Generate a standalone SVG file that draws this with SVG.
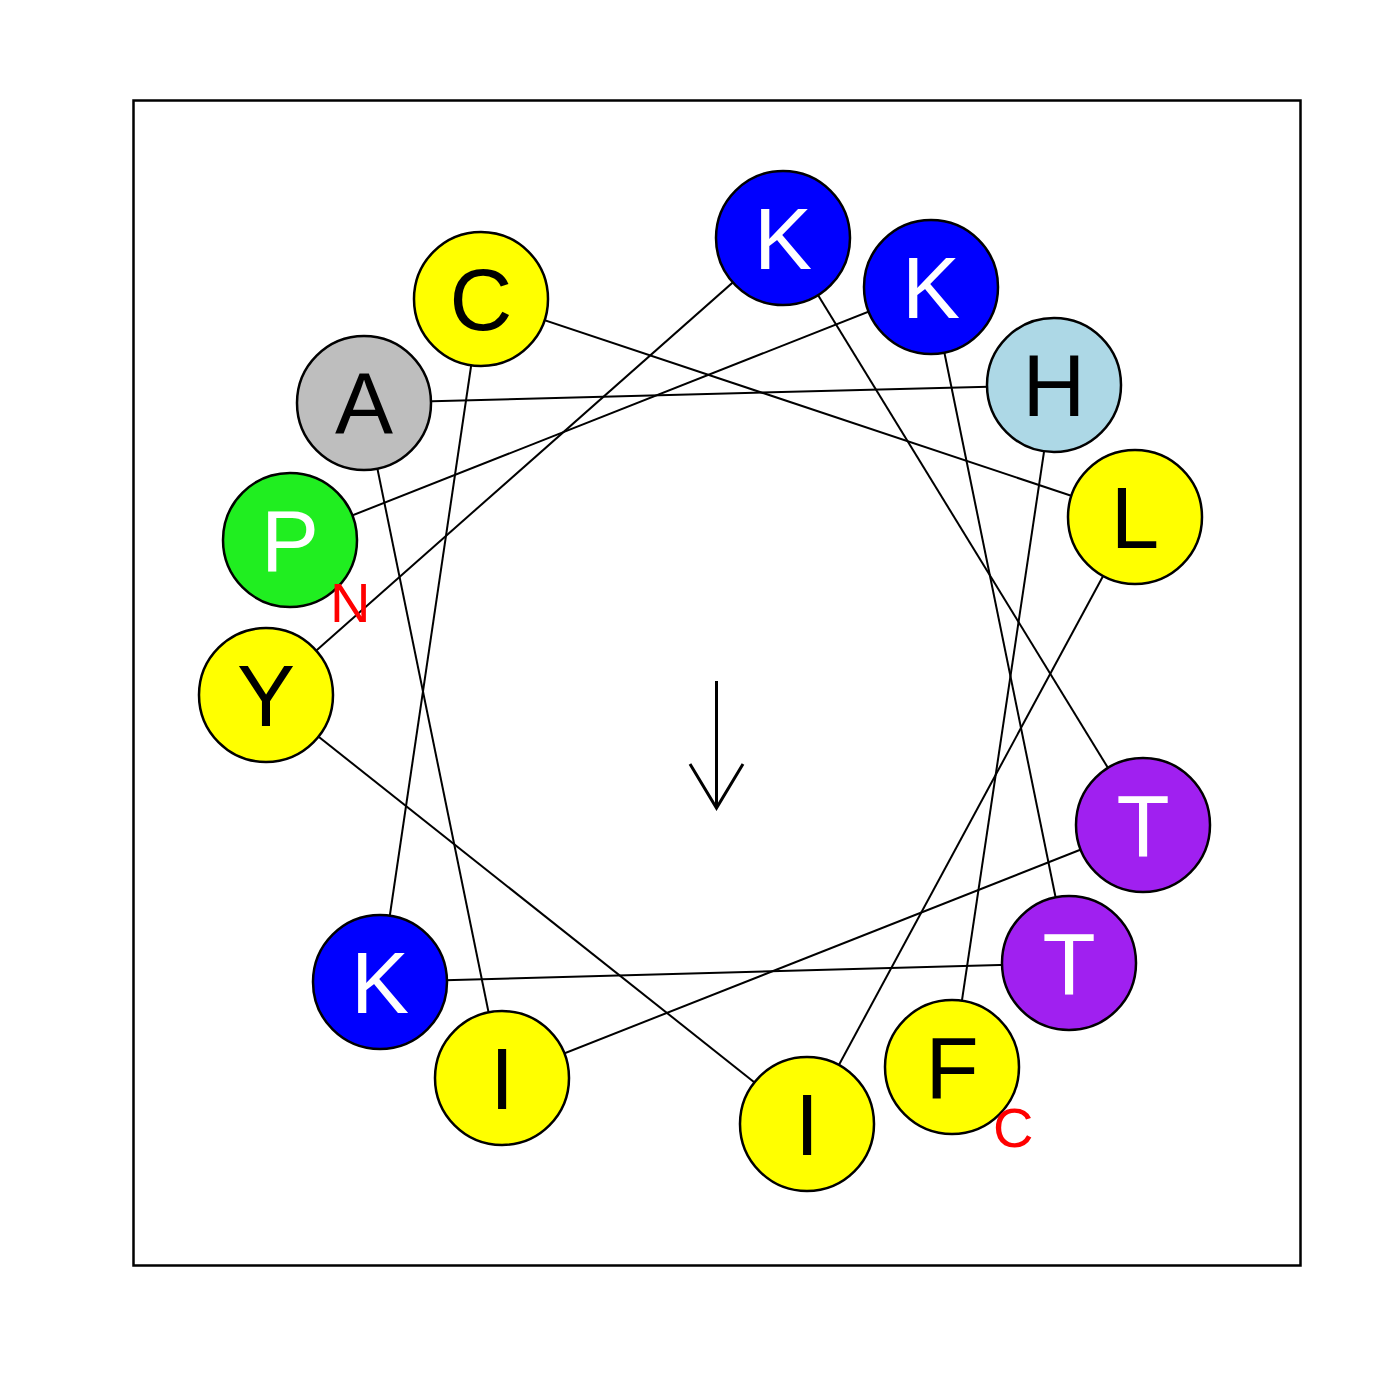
<svg xmlns="http://www.w3.org/2000/svg" width="1400" height="1400" viewBox="0 0 1400 1400">
<style>
.res circle{stroke:#000;stroke-width:2.5}
.res text{font-family:"Liberation Sans",Arial,sans-serif;font-size:87px;text-anchor:middle}
.lt{fill:#fff}
.dk{fill:#000}
.term{font-family:"Liberation Sans",Arial,sans-serif;font-size:56px;fill:#ff0000}
#links line{stroke:#000;stroke-width:2}
</style>
<rect width="1400" height="1400" fill="#fff"/>
<rect x="133.5" y="100.5" width="1167" height="1165" fill="none" stroke="#000" stroke-width="2.5"/>
<g id="links">
<line x1="290" y1="540" x2="931" y2="287"/>
<line x1="931" y1="287" x2="1069" y2="963"/>
<line x1="1069" y1="963" x2="380" y2="982"/>
<line x1="380" y1="982" x2="481" y2="299"/>
<line x1="481" y1="299" x2="1135" y2="517"/>
<line x1="1135" y1="517" x2="807" y2="1124"/>
<line x1="807" y1="1124" x2="266" y2="695"/>
<line x1="266" y1="695" x2="783" y2="238"/>
<line x1="783" y1="238" x2="1143" y2="825"/>
<line x1="1143" y1="825" x2="502" y2="1078"/>
<line x1="502" y1="1078" x2="364" y2="403"/>
<line x1="364" y1="403" x2="1054" y2="385"/>
<line x1="1054" y1="385" x2="952" y2="1067"/>
</g>
<g id="arrow" fill="none" stroke="#000" stroke-width="3">
<line x1="716.5" y1="681" x2="716.5" y2="808"/>
<polyline points="690,764 716.5,808 743,764"/>
</g>
<g class="res">
<g id="r1-P"><circle cx="290" cy="540" r="67" fill="#20ee20"/><text class="lt" x="290" y="571">P</text></g>
<g id="r2-K"><circle cx="931" cy="287" r="67" fill="#0000ff"/><text class="lt" x="931" y="318">K</text></g>
<g id="r3-T"><circle cx="1069" cy="963" r="67" fill="#a020f0"/><text class="lt" x="1069" y="994">T</text></g>
<g id="r4-K"><circle cx="380" cy="982" r="67" fill="#0000ff"/><text class="lt" x="380" y="1013">K</text></g>
<g id="r5-C"><circle cx="481" cy="299" r="67" fill="#ffff00"/><text class="dk" x="481" y="330">C</text></g>
<g id="r6-L"><circle cx="1135" cy="517" r="67" fill="#ffff00"/><text class="dk" x="1135" y="548">L</text></g>
<g id="r7-I"><circle cx="807" cy="1124" r="67" fill="#ffff00"/><text class="dk" x="807" y="1155">I</text></g>
<g id="r8-Y"><circle cx="266" cy="695" r="67" fill="#ffff00"/><text class="dk" x="266" y="726">Y</text></g>
<g id="r9-K"><circle cx="783" cy="238" r="67" fill="#0000ff"/><text class="lt" x="783" y="269">K</text></g>
<g id="r10-T"><circle cx="1143" cy="825" r="67" fill="#a020f0"/><text class="lt" x="1143" y="856">T</text></g>
<g id="r11-I"><circle cx="502" cy="1078" r="67" fill="#ffff00"/><text class="dk" x="502" y="1109">I</text></g>
<g id="r12-A"><circle cx="364" cy="403" r="67" fill="#bebebe"/><text class="dk" x="364" y="434">A</text></g>
<g id="r13-H"><circle cx="1054" cy="385" r="67" fill="#add8e6"/><text class="dk" x="1054" y="416">H</text></g>
<g id="r14-F"><circle cx="952" cy="1067" r="67" fill="#ffff00"/><text class="dk" x="952" y="1098">F</text></g>
</g>
<text class="term" x="330" y="622">N</text>
<text class="term" x="993" y="1147">C</text>
</svg>
